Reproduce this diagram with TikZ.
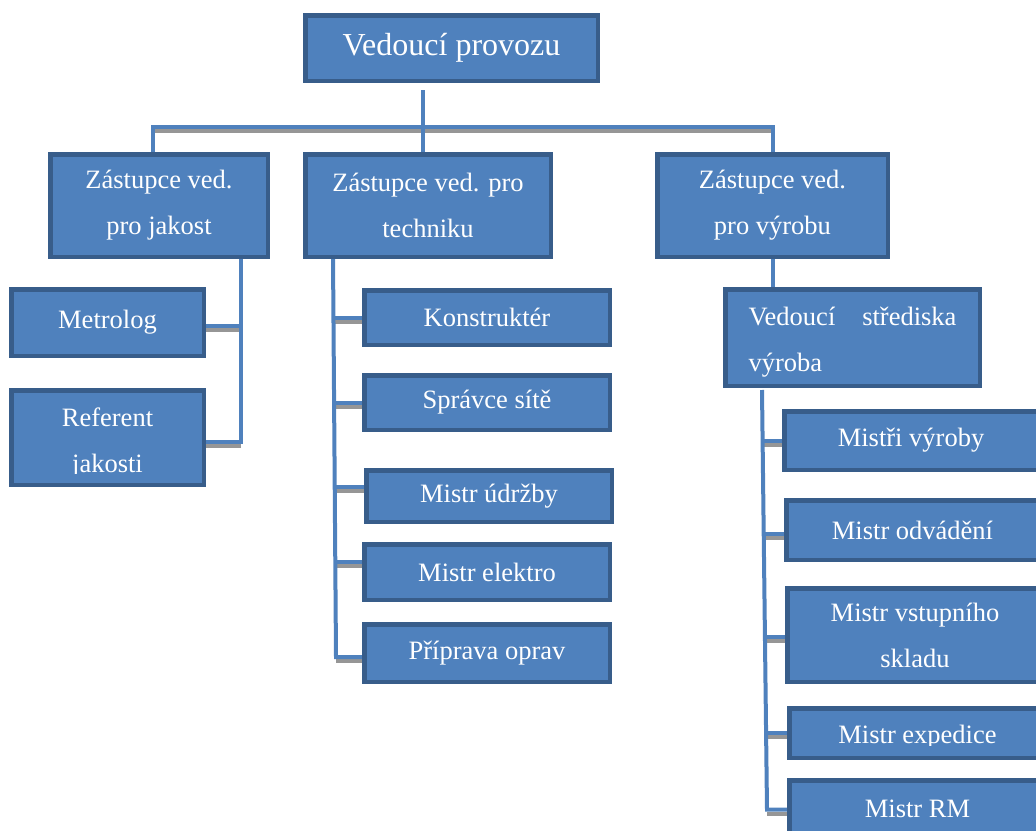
\documentclass[tikz,border=0pt]{standalone}
\usepackage{fontspec}
\setmainfont{Liberation Serif}
\usetikzlibrary{backgrounds,calc}
\definecolor{boxfill}{HTML}{4F81BD}
\definecolor{boxedge}{HTML}{385D8A}
\definecolor{linkshade}{HTML}{969696}
% a box given by its outer corners (x1,y1)-(x2,y2), border included
\newcommand\posbox[7][]{%
  \node[box,minimum width={#4-#2-4.5},minimum height={#5-#3-4.5},#1]
    (#6) at ({(#2+#4)/2},{(#3+#5)/2}) {#7};}
\begin{document}
\begin{tikzpicture}[x=1pt,y=-1pt,
  box/.style={fill=boxfill,draw=boxedge,line width=4.5pt,text=white,
    inner sep=0pt,outer sep=0pt,align=center,
    font=\fontsize{26.5}{46}\selectfont},
  boxtext/.style={text=white,inner sep=0pt,align=center,
    font=\fontsize{26.5}{46}\selectfont},
  link/.style={draw=boxfill,line width=4pt},
  linkshadow/.style={draw=linkshade,line width=4pt},
]
\useasboundingbox (0,0) rectangle (1036,830);
\clip (0,0) rectangle (1036,830);

% head and deputies
\posbox[font=\fontsize{32}{38}\selectfont]{303}{13}{600}{83}{top}{Vedoucí provozu}
\posbox{48}{152}{270}{259}{jak}{Zástupce ved.\\pro jakost}
\posbox{303}{152}{553}{259}{tech}{Zástupce ved. pro\\techniku}
\posbox{655}{152}{890}{259}{vyr}{Zástupce ved.\\pro výrobu}

% quality
\posbox{9}{287}{206}{358}{met}{Metrolog}
\posbox{9}{388}{206}{487}{ref}{}
\begin{scope}
  \clip (ref.north west) rectangle (206,473);
  \node[boxtext] (ref-text) at (107.5,443) {Referent\\jakosti};
\end{scope}

% technology
\posbox{362}{288}{612}{347}{kon}{Konstruktér}
\posbox{362}{373}{612}{432}{spr}{Správce sítě}
\posbox{364}{468}{614}{524}{udr}{Mistr údržby}
\posbox{362}{542}{612}{602}{ele}{Mistr elektro}
\posbox{362}{622}{612}{684}{pri}{Příprava oprav}

% production
\posbox{723}{287}{982}{388}{ved}{\raisebox{-5pt}[\height][\depth]{\parbox{208pt}{Vedoucí\hfill střediska\\výroba}}}
\posbox{782}{409}{1040}{472}{mv}{Mistři výroby}
\posbox{784}{498}{1041}{562}{mo}{Mistr odvádění}
\posbox{785}{586}{1045}{684}{ms}{Mistr vstupního\\skladu}
\posbox{787}{706}{1048}{760}{me}{}
\begin{scope}
  \clip (me.north west) rectangle (1048,745);
  \node[boxtext,anchor=base] (me-text) at (917.5,743) {Mistr expedice};
\end{scope}
\posbox{787}{778}{1048}{840}{rm}{Mistr RM}

% junction points of the connectors
\coordinate (topdrop) at (423,90);
\coordinate (busL) at (153,127);
\coordinate (busR) at (773,127);
\coordinate (jm) at (241,325.5);
\coordinate (jr) at (241,442);
\coordinate (mt) at (333,259);
\coordinate (m1) at (333.4,318);
\coordinate (m2) at (334.1,403);
\coordinate (m3) at (334.7,487);
\coordinate (m4) at (335.3,562);
\coordinate (m5) at (336,657);
\coordinate (rt) at (762,390);
\coordinate (r1) at (762.6,440.5);
\coordinate (r2) at (763.7,534);
\coordinate (r3) at (764.9,637);
\coordinate (r4) at (766.1,733);
\coordinate (r5) at (767,809.5);

\begin{pgfonlayer}{background}
  % grey shadows under the horizontal runs
  \draw[linkshadow] ($(busL)+(2,4)$) -- ($(busR)+(0,4)$);
  \foreach \c/\n in {jm/met,jr/ref}
    \draw[linkshadow] ($(\c)+(0,4)$) -- ($(\n.east |- \c)+(0,4)$);
  \foreach \c/\n in {m1/kon,m2/spr,m3/udr,m4/ele,m5/pri,r1/mv,r2/mo,r3/ms,r4/me,r5/rm}
    \draw[linkshadow] ($(\c)+(0,4)$) -- ($(\n.west |- \c)+(0,4)$);
  % connectors
  \draw[link] (topdrop) -- (topdrop |- tech.north);
  \draw[link] (jak.north -| busL) -- (busL) -- (busR) -- (vyr.north -| busR);
  \draw[link] (jak.south -| jr) -- (jr) -- (ref.east |- jr);
  \draw[link] (jm) -- (met.east |- jm);
  \draw[link] (tech.south -| mt) -- (m5) -- (pri.west |- m5);
  \foreach \c/\n in {m1/kon,m2/spr,m3/udr,m4/ele}
    \draw[link] (\c) -- (\n.west |- \c);
  \draw[link] (vyr.south) -- (vyr.south |- ved.north);
  \draw[link] (rt) -- (r5) -- (rm.west |- r5);
  \foreach \c/\n in {r1/mv,r2/mo,r3/ms,r4/me}
    \draw[link] (\c) -- (\n.west |- \c);
\end{pgfonlayer}
\end{tikzpicture}
\end{document}
